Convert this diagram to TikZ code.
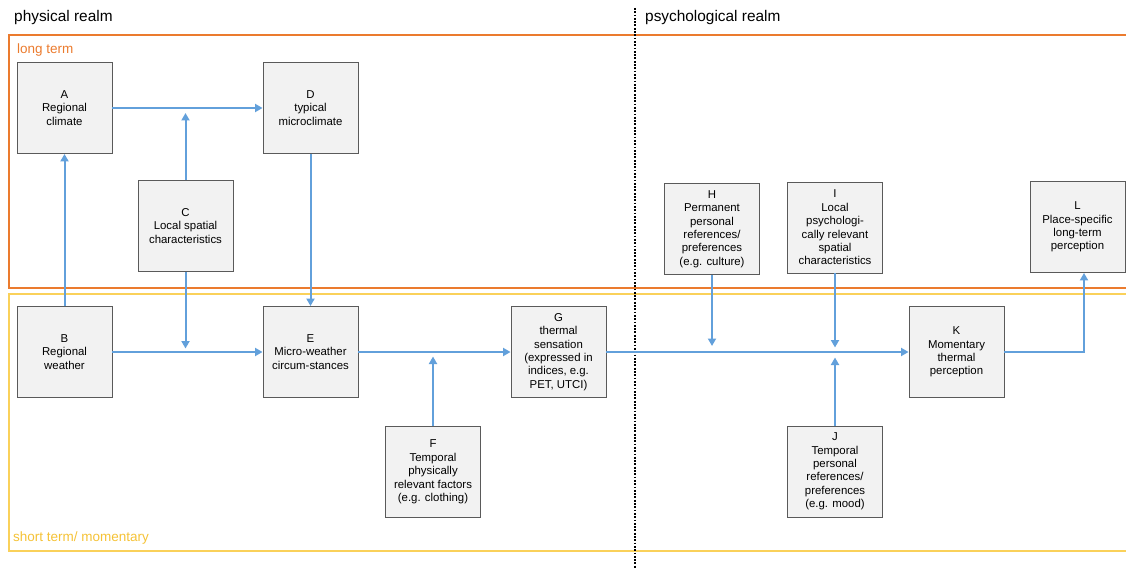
\documentclass[tikz,border=0pt]{standalone}
\usepackage{fontspec}
\setmainfont{Liberation Sans}
\usetikzlibrary{arrows.meta}
\definecolor{arrowblue}{HTML}{62A0DB}
\definecolor{frameorange}{HTML}{EB7B2E}
\definecolor{frameyellow}{HTML}{FAD15A}
\definecolor{labelyellow}{HTML}{F5C236}
\definecolor{boxgray}{HTML}{5A5A5A}
\definecolor{boxfill}{HTML}{F2F2F2}
\begin{document}
\begin{tikzpicture}[x=1pt,y=-1pt,
  box/.style={draw=boxgray, fill=boxfill, line width=0.9pt, minimum width=95pt,
    minimum height=91pt, align=center, inner sep=1pt,
    font=\fontsize{11.4}{13.4}\selectfont},
  arr/.style={draw=arrowblue, line width=2pt, -{Triangle[length=7.5pt,width=8pt]}},
  realm/.style={anchor=west, inner sep=0pt, font=\fontsize{15.4}{17}\selectfont},
  framelabel/.style={anchor=west, inner sep=0pt, font=\fontsize{13.5}{15}\selectfont},
  orangeframe/.style={draw=frameorange, line width=2.5pt},
  yellowframe/.style={draw=frameyellow, line width=2.5pt},
  divider/.style={draw=black, line width=2pt, dash pattern=on 1.8pt off 1.5pt}
]
\useasboundingbox (0,0) rectangle (1126,569);

% frames
\draw[orangeframe] (1135,35) -- (9,35) -- (9,288) -- (1135,288);
\draw[yellowframe] (1135,294) -- (9,294) -- (9,551) -- (1135,551);

% labels
\node[realm] (phys) at (14,18) {physical realm};
\node[realm] (psych) at (645,18) {psychological realm};
\node[framelabel, text=frameorange] (lt) at (17,50) {long term};
\node[framelabel, text=labelyellow] (st) at (13,538) {short term/ momentary};

% divider
\draw[divider] (635,8) -- (635,569);

% boxes
\node[box] (A) at (64.5,108) {A\\Regional\\climate};
\node[box] (D) at (310.5,108) {D\\typical\\microclimate};
\node[box] (C) at (185.5,226) {C\\Local spatial\\characteristics};
\node[box] (B) at (64.5,352) {B\\Regional\\weather};
\node[box] (E) at (310.5,352) {E\\Micro-weather\\circum-stances};
\node[box] (F) at (433,472) {F\\Temporal\\physically\\relevant factors\\(e.g. clothing)};
\node[box] (G) at (558.5,352) {G\\thermal\\sensation\\(expressed in\\indices, e.g.\\PET, UTCI)};
\node[box] (H) at (712,229) {H\\Permanent\\personal\\references/\\preferences\\(e.g. culture)};
\node[box] (I) at (835,227.5) {I\\Local\\psychologi-\\cally relevant\\spatial\\characteristics};
\node[box] (J) at (835,471.5) {J\\Temporal\\personal\\references/\\preferences\\(e.g. mood)};
\node[box] (K) at (956.5,352) {K\\Momentary\\thermal\\perception};
\node[box] (L) at (1077.5,227) {L\\Place-specific\\long-term\\perception};

% junction points
\coordinate (cAD) at (185.5,113);
\coordinate (cBE) at (185.5,348.5);
\coordinate (cEG) at (433,356.5);
\coordinate (cH) at (712,346);
\coordinate (cI) at (835,347.5);
\coordinate (cJ) at (835,357.5);
\coordinate (kl) at (1084,352);

% connectors
\draw[arr] (A) -- (D);
\draw[arr] (C) -- (cAD);
\draw[arr] (B) -- (A);
\draw[arr] (B) -- (E);
\draw[arr] (C) -- (cBE);
\draw[arr] (D) -- (E);
\draw[arr] (E) -- (G);
\draw[arr] (F) -- (cEG);
\draw[arr] (G) -- (K);
\draw[arr] (H) -- (cH);
\draw[arr] (I) -- (cI);
\draw[arr] (J) -- (cJ);
\draw[arr] (K) -- (kl) -- (kl |- L.south);
\end{tikzpicture}
\end{document}
